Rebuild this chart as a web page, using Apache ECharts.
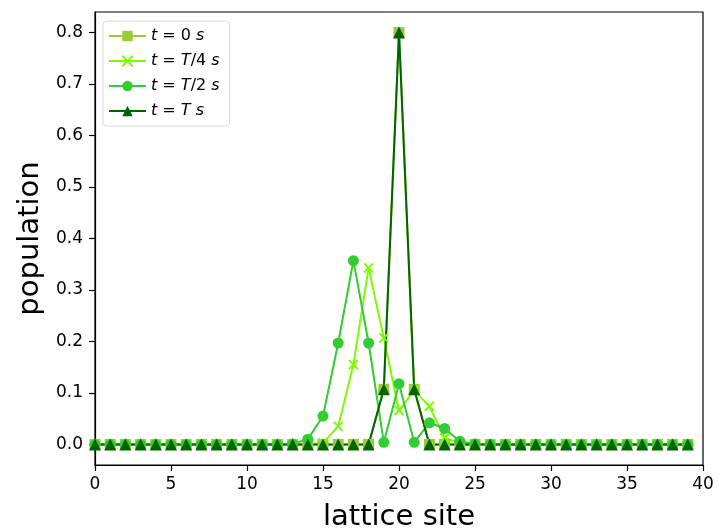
<!DOCTYPE html>
<html>
<head>
<meta charset="utf-8">
<script src="https://cdn.jsdelivr.net/npm/echarts@6/dist/echarts.min.js"></script>
<style>html,body{margin:0;padding:0;background:#fff}#c{width:719px;height:531px}</style>
</head>
<body>
<div id="c"></div>
<script>
var sites = [];
for (var i = 0; i < 40; i++) sites.push(i);
var seriesNames = ['t = 0 s', 't = T/4 s', 't = T/2 s', 't = T s'];
var yTicks = [0, 0.1, 0.2, 0.3, 0.4, 0.5, 0.6, 0.7, 0.8];
var xTicks = [0, 5, 10, 15, 20, 25, 30, 35, 40];

var popT0 = [0,0,0,0,0,0,0,0,0,0, 0,0,0,0,0,0,0,0,0,0.107, 0.8,0.107,0,0,0,0,0,0,0,0, 0,0,0,0,0,0,0,0,0,0];
var popT4 = [0,0,0,0,0,0,0,0,0,0, 0,0,0,0,0,0.003,0.035,0.155,0.343,0.207, 0.066,0.105,0.074,0.013,0.002,0,0,0,0,0, 0,0,0,0,0,0,0,0,0,0];
var popT2 = [0,0,0,0,0,0,0,0,0,0, 0,0,0,0.001,0.01,0.055,0.197,0.357,0.197,0.004, 0.118,0.004,0.042,0.031,0.006,0.001,0,0,0,0, 0,0,0,0,0,0,0,0,0,0];
var popT  = [0,0,0,0,0,0,0,0,0,0, 0,0,0,0,0,0,0,0,0,0.107, 0.8,0.107,0,0,0,0,0,0,0,0, 0,0,0,0,0,0,0,0,0,0];

function pairs(arr){ return sites.map(function(s, i){ return [s, arr[i]]; }); }

var colors = ['#9ACD32', '#7CFC00', '#32CD32', '#006400'];
var crossPath = 'path://M0,0 L10,10 M10,0 L0,10';

var chart = echarts.init(document.getElementById('c'), null, {renderer: 'canvas'});
var font = 'DejaVu Sans';
chart.setOption({
  animation: false,
  backgroundColor: '#fff',
  grid: {left: 95, right: 16, top: 12, bottom: 66, show: true, borderColor: '#000', borderWidth: 1.2, backgroundColor: 'transparent', outerBoundsMode: 'none', containLabel: false},
  legend: {
    left: 103, top: 21, orient: 'vertical',
    padding: [7, 10, 7, 5],
    itemGap: 9, itemWidth: 37, itemHeight: 13,
    backgroundColor: '#fff', borderColor: '#d8d8d8', borderWidth: 1, borderRadius: 4,
    data: seriesNames,
    formatter: function(n){
      var m = {'t = 0 s': '{i|t} = 0 {i|s}', 't = T/4 s': '{i|t} = {i|T}/4 {i|s}', 't = T/2 s': '{i|t} = {i|T}/2 {i|s}', 't = T s': '{i|t} = {i|T} {i|s}'};
      return m[n];
    },
    textStyle: {fontFamily: font, fontSize: 16, color: '#000', lineHeight: 16, rich: {i: {fontFamily: font, fontSize: 16, fontStyle: 'italic', color: '#000', lineHeight: 16}}}
  },
  xAxis: {
    type: 'value', min: 0, max: 40, interval: 5,
    name: 'lattice site', nameLocation: 'middle', nameGap: 38,
    nameTextStyle: {fontFamily: font, fontSize: 29, color: '#000'},
    axisLine: {show: true, onZero: false, lineStyle: {color: '#000', width: 1.2}},
    axisTick: {show: true, length: 6, lineStyle: {color: '#000', width: 1.2}},
    axisLabel: {fontFamily: font, fontSize: 17, color: '#000', margin: 11},
    splitLine: {show: false}
  },
  yAxis: {
    type: 'value', min: -0.04, max: 0.84,
    name: 'population', nameLocation: 'middle', nameGap: 50,
    nameTextStyle: {fontFamily: font, fontSize: 29, color: '#000'},
    axisLine: {show: true, onZero: false, lineStyle: {color: '#000', width: 1.2}},
    axisTick: {show: true, length: 6, lineStyle: {color: '#000', width: 1.2}, customValues: yTicks},
    axisLabel: {fontFamily: font, fontSize: 17, color: '#000', margin: 12, customValues: yTicks, formatter: function(v){ return v.toFixed(1); }},
    splitLine: {show: false}
  },
  series: [
    {name: seriesNames[0], type: 'line', data: pairs(popT0), symbol: 'rect', symbolSize: 11, lineStyle: {color: colors[0], width: 2}, itemStyle: {color: colors[0]}, clip: true},
    {name: seriesNames[1], type: 'line', data: pairs(popT4), symbol: crossPath, symbolSize: 9, lineStyle: {color: colors[1], width: 2}, itemStyle: {color: colors[1], borderColor: colors[1], borderWidth: 2}, clip: true},
    {name: seriesNames[2], type: 'line', data: pairs(popT2), symbol: 'circle', symbolSize: 11, lineStyle: {color: colors[2], width: 2}, itemStyle: {color: colors[2]}, clip: true},
    {name: seriesNames[3], type: 'line', data: pairs(popT), symbol: 'triangle', symbolSize: 12, lineStyle: {color: colors[3], width: 2}, itemStyle: {color: colors[3]}, clip: true}
  ]
});
</script>
</body>
</html>
